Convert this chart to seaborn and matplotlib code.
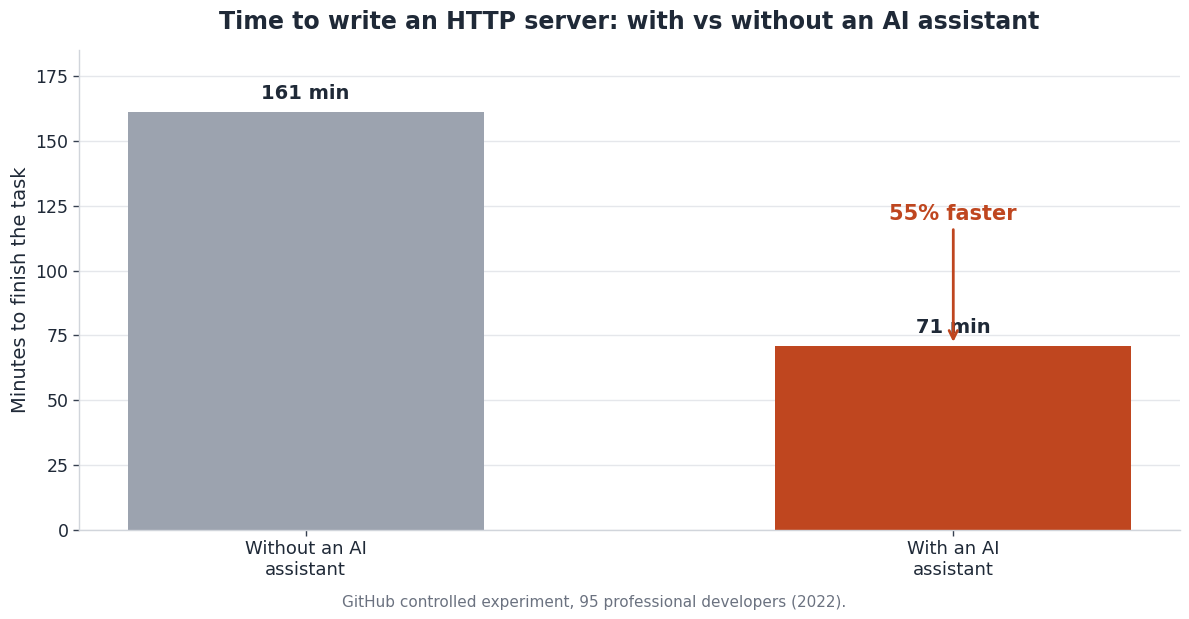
import matplotlib
matplotlib.use("Agg")
import matplotlib.pyplot as plt
import seaborn as sns
import pandas as pd

categories = ["Without an AI\nassistant", "With an AI\nassistant"]
minutes = [161, 71]
value_labels = ["161 min", "71 min"]
bar_colors = ["#9CA3AF", "#BF461F"]
annotation_text = "55% faster"
caption = "GitHub controlled experiment, 95 professional developers (2022)."

sns.set_theme(style="whitegrid")
plt.rcParams['font.family'] = ['DejaVu Sans']

dark = "#1F2937"
fig = plt.figure(figsize=(11.89, 6.19), dpi=100)
ax = fig.add_axes([0.0664, 0.1438, 0.926, 0.7752])

df = pd.DataFrame({"cat": categories, "min": minutes})
sns.barplot(data=df, x="cat", y="min", hue="cat", palette=bar_colors,
            width=0.55, legend=False, ax=ax, saturation=1, linewidth=0)

ax.set_ylim(0, 185)
ax.set_xlim(-0.35, 1.35)
ax.set_yticks([0, 25, 50, 75, 100, 125, 150, 175])
ax.grid(axis="y", color="#E5E7EB", linewidth=1)
ax.grid(axis="x", visible=False)
ax.set_axisbelow(True)
for s in ["top", "right"]:
    ax.spines[s].set_visible(False)
for s in ["left", "bottom"]:
    ax.spines[s].set_color("#D1D5DB")
    ax.spines[s].set_linewidth(1)
ax.tick_params(axis="y", colors="#374151", labelcolor=dark, labelsize=12.5,
               length=4, width=1, left=True)
ax.tick_params(axis="x", colors="#374151", labelcolor=dark, labelsize=13,
               length=4, width=1, bottom=True)
ax.set_xlabel("")
ax.set_ylabel("Minutes to finish the task", fontsize=14, color=dark)
ax.set_title("Time to write an HTTP server: with vs without an AI assistant",
             fontsize=17, fontweight="bold", color=dark, pad=15.5)

for i, (v, lab) in enumerate(zip(minutes, value_labels)):
    ax.text(i, v + 3.5, lab, ha="center", va="bottom", fontsize=14,
            fontweight="bold", color=dark)

ax.annotate(annotation_text, xy=(1, minutes[1] + 1.5), xytext=(1, 122),
            ha="center", va="center", fontsize=15, fontweight="bold",
            color=bar_colors[1],
            arrowprops=dict(arrowstyle="->", color=bar_colors[1], lw=2,
                            shrinkA=2, shrinkB=0))

fig.text(0.5, 0.027, caption, ha="center", va="center", fontsize=11, color="#6B7280")

fig.savefig("out.png", dpi=100)
